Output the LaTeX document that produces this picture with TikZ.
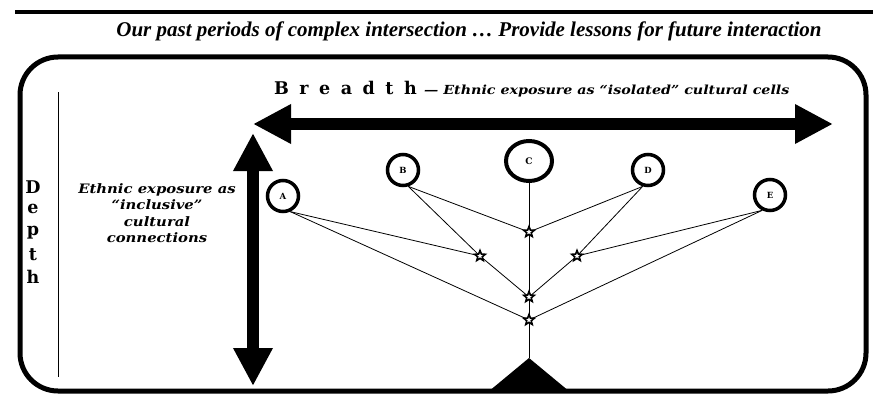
\documentclass[tikz,border=0pt]{standalone}
\usepackage{fontspec}
\usetikzlibrary{arrows.meta,shapes.geometric}
\newfontfamily\djs{DejaVu Serif}
\newfontfamily\djsw[FakeStretch=1.14]{DejaVu Serif}
\newfontfamily\lser{Liberation Serif}
\newcommand{\gp}{\hspace{10.5pt}}
\begin{document}
\begin{tikzpicture}[x=1pt,y=-1pt,
  circ/.style={circle,draw,line width=3.5pt,minimum size=31pt,inner sep=0pt,font=\djs\bfseries\fontsize{8.5}{8.5}\selectfont},
  starnode/.style={star,star points=5,star point ratio=2.3,draw,fill=white,line width=1.6pt,minimum size=11pt,inner sep=0pt},
  link/.style={line width=0.8pt},
  bigarrow/.style={line width=12pt,{Triangle[length=38pt,width=37pt]}-{Triangle[length=38pt,width=37pt]}},
  bigletter/.style={font=\djs\bfseries\fontsize{17.5}{17.5}\selectfont,inner sep=0pt},
  smallital/.style={font=\djsw\bfseries\itshape\fontsize{12.5}{16.5}\selectfont,inner sep=0pt}
]
\useasboundingbox (0,0) rectangle (873,396);
% top rule and title
\coordinate (r1) at (15,12);
\coordinate (r2) at (873,12);
\draw[line width=4pt] (r1) -- (r2);
\node[font=\lser\bfseries\itshape\fontsize{21}{21}\selectfont,inner sep=0pt] (title) at (469,31)
  {Our past periods of complex intersection \dots\ Provide lessons for future interaction};
% frame
\draw[line width=5pt,rounded corners=38pt] (20,57) rectangle (866,391);
% Depth
\node[bigletter] (d1) at (33,187) {D};
\node[bigletter] (d2) at (33,209) {e};
\node[bigletter] (d3) at (33,233) {p};
\node[bigletter] (d4) at (33,255) {t};
\node[bigletter] (d5) at (33,277) {h};
\coordinate (v1) at (58,92);
\coordinate (v2) at (58,377);
\draw[line width=1pt] (v1) -- (v2);
\node[smallital,align=center,font=\djsw\bfseries\itshape\fontsize{13}{16.5}\selectfont] (incl) at (157,213)
  {Ethnic exposure as\\“inclusive”\\cultural\\connections};
% Breadth
\node[bigletter,anchor=base west] (br) at (274,95) {B\gp r\gp e\gp a\gp d\gp t\gp h};
\node[smallital,anchor=base west] (brtxt) at ([xshift=7pt]br.base east)
  {— Ethnic exposure as “isolated” cultural cells};
% big arrows
\coordinate (h1) at (253,124);
\coordinate (h2) at (833,124);
\draw[bigarrow] (h1) -- (h2);
\coordinate (u1) at (253,133);
\coordinate (u2) at (253,386);
\draw[bigarrow] (u1) -- (u2);
% circles
\node[circ] (A) at (283,196) {A};
\node[circ] (B) at (403,170) {B};
\node[ellipse,draw,line width=4pt,minimum width=46pt,minimum height=40pt,inner sep=0pt,
      font=\djs\bfseries\fontsize{9}{9}\selectfont] (C) at (529,161) {C};
\node[circ] (D) at (648,170) {D};
\node[circ] (E) at (770,195) {E};
% stars
\coordinate (apex) at (529,358);
\coordinate (tl) at (488,392);
\coordinate (tr) at (570,392);
\coordinate (p1) at (529,232);
\coordinate (p2) at (480,256);
\coordinate (p3) at (577,256);
\coordinate (p4) at (529,297);
\coordinate (p5) at (529,320);
% links
\draw[link] (C.south) -- (apex);
\draw[link] (A.-65) -- (p2);
\draw[link] (A.-65) -- (p5);
\draw[link] (B.-72) -- (p1);
\draw[link] (B.-72) -- (p2) -- (p4);
\draw[link] (D.252) -- (p1);
\draw[link] (D.252) -- (p3) -- (p4);
\draw[link] (E.243) -- (p3);
\draw[link] (E.243) -- (p5);
\node[starnode] (s1) at (p1) {};
\node[starnode] (s2) at (p2) {};
\node[starnode] (s3) at (p3) {};
\node[starnode] (s4) at (p4) {};
\node[starnode] (s5) at (p5) {};
% apex triangle
\fill (apex) -- (tl) -- (tr) -- cycle;
\end{tikzpicture}
\end{document}
